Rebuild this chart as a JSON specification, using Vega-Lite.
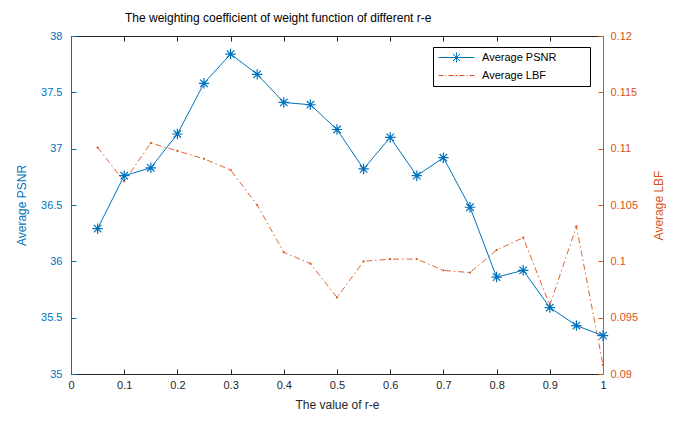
{
  "$schema": "https://vega.github.io/schema/vega-lite/v6.json",
  "width": 532,
  "height": 338,
  "autosize": {"type": "none"},
  "padding": {"left": 71, "top": 36, "right": 77, "bottom": 47},
  "background": "white",
  "title": {
    "text": "The weighting coefficient of weight function of different r-e",
    "anchor": "start",
    "frame": "group",
    "dx": 54,
    "offset": 5,
    "font": "Liberation Sans",
    "fontSize": 12,
    "fontWeight": "normal",
    "color": "#000000"
  },
  "config": {
    "view": {"stroke": null},
    "axis": {
      "grid": false,
      "labelFlush": false,
      "labelFont": "Liberation Sans",
      "titleFont": "Liberation Sans",
      "labelFontSize": 11,
      "titleFontSize": 12,
      "titleFontWeight": "normal",
      "tickSize": -5,
      "domainWidth": 1,
      "tickWidth": 1
    },
    "legend": {
      "labelFont": "Liberation Sans",
      "labelFontSize": 11
    }
  },
  "data": {
    "values": [
      {"x": 0.05, "psnr": 36.29, "lbf": 0.1101},
      {"x": 0.1, "psnr": 36.76, "lbf": 0.1071},
      {"x": 0.15, "psnr": 36.83, "lbf": 0.1105},
      {"x": 0.2, "psnr": 37.13, "lbf": 0.1098},
      {"x": 0.25, "psnr": 37.58, "lbf": 0.1091},
      {"x": 0.3, "psnr": 37.84, "lbf": 0.1081},
      {"x": 0.35, "psnr": 37.66, "lbf": 0.105},
      {"x": 0.4, "psnr": 37.41, "lbf": 0.1008},
      {"x": 0.45, "psnr": 37.39, "lbf": 0.0998},
      {"x": 0.5, "psnr": 37.17, "lbf": 0.0968},
      {"x": 0.55, "psnr": 36.82, "lbf": 0.1},
      {"x": 0.6, "psnr": 37.1, "lbf": 0.1002},
      {"x": 0.65, "psnr": 36.76, "lbf": 0.1002},
      {"x": 0.7, "psnr": 36.92, "lbf": 0.0992},
      {"x": 0.75, "psnr": 36.48, "lbf": 0.099},
      {"x": 0.8, "psnr": 35.86, "lbf": 0.101},
      {"x": 0.85, "psnr": 35.92, "lbf": 0.1021},
      {"x": 0.9, "psnr": 35.59, "lbf": 0.0961},
      {"x": 0.95, "psnr": 35.43, "lbf": 0.1031},
      {"x": 1.0, "psnr": 35.34, "lbf": 0.0908}
    ]
  },
  "layer": [
    {
      "encoding": {
        "x": {
          "field": "x",
          "type": "quantitative",
          "scale": {"domain": [0, 1], "nice": false, "zero": false},
          "axis": {
            "orient": "bottom",
            "title": "The value of r-e",
            "values": [0, 0.1, 0.2, 0.3, 0.4, 0.5, 0.6, 0.7, 0.8, 0.9, 1],
            "format": "~g",
            "labelPadding": 10,
            "titlePadding": 9,
            "domainColor": "#262626",
            "tickColor": "#262626",
            "labelColor": "#262626",
            "titleColor": "#262626"
          }
        },
        "y": {
          "field": "lbf",
          "type": "quantitative",
          "scale": {"domain": [0.09, 0.12], "nice": false, "zero": false},
          "axis": {
            "orient": "right",
            "title": "Average LBF",
            "titleAngle": 270,
            "titleBaseline": "bottom",
            "values": [0.09, 0.095, 0.1, 0.105, 0.11, 0.115, 0.12],
            "format": ".3~f",
            "labelPadding": 12,
            "titlePadding": 28,
            "domainColor": "#D95319",
            "tickColor": "#D95319",
            "labelColor": "#D95319",
            "titleColor": "#D95319"
          }
        },
        "color": {
          "datum": "Average LBF",
          "type": "nominal",
          "scale": {"domain": ["Average PSNR", "Average LBF"], "range": ["#0072BD", "#D95319"]},
          "legend": {
            "title": null,
            "orient": "none",
            "legendX": 362,
            "legendY": 11,
            "strokeColor": "#000000",
            "fillColor": "#ffffff",
            "padding": 5,
            "rowPadding": 4,
            "symbolSize": 100,
            "symbolOffset": 13,
            "labelOffset": 20,
            "labelColor": "#000000",
            "encode": {
              "symbols": {
                "update": {
                  "shape": {"signal": "datum.value === 'Average PSNR' ? 'M-3.6,0L3.6,0M0,-1L0,1M-1,0L1,0M-0.71,-0.71L0.71,0.71M-0.71,0.71L0.71,-0.71M25.2,0' : 'M-3.6,0L-2.6,0M-2.2,0L-2.0,0M-1.6,0L-0.6,0M-0.2,0L0.2,0M0.6,0L1.6,0M2.0,0L2.2,0M2.6,0L3.6,0M25.2,0'"},
                  "stroke": {"signal": "datum.value === 'Average PSNR' ? '#0072BD' : '#D95319'"},
                  "fill": {"value": "transparent"},
                  "strokeWidth": {"value": 1},
                  "opacity": {"value": 1}
                }
              }
            }
          }
        }
      },
      "layer": [
        {"mark": {"type": "line", "strokeWidth": 0.9, "strokeDash": [6, 3, 1.5, 3]}},
        {"mark": {"type": "point", "shape": "circle", "filled": true, "size": 5, "opacity": 1}}
      ]
    },
    {
      "encoding": {
        "x": {
          "field": "x",
          "type": "quantitative",
          "scale": {"domain": [0, 1], "nice": false, "zero": false},
          "axis": {
            "orient": "top",
            "title": null,
            "labels": false,
            "values": [0, 0.1, 0.2, 0.3, 0.4, 0.5, 0.6, 0.7, 0.8, 0.9, 1],
            "domainColor": "#262626",
            "tickColor": "#262626"
          }
        },
        "y": {
          "field": "psnr",
          "type": "quantitative",
          "scale": {"domain": [35, 38], "nice": false, "zero": false},
          "axis": {
            "orient": "left",
            "title": "Average PSNR",
            "values": [35, 35.5, 36, 36.5, 37, 37.5, 38],
            "format": "~g",
            "labelPadding": 14,
            "titlePadding": 12,
            "domainColor": "#0072BD",
            "tickColor": "#0072BD",
            "labelColor": "#0072BD",
            "titleColor": "#0072BD"
          }
        },
        "color": {"datum": "Average PSNR", "type": "nominal"}
      },
      "layer": [
        {"mark": {"type": "line", "strokeWidth": 1}},
        {"mark": {"type": "point", "shape": "M0,-1L0,1M-1,0L1,0M-0.71,-0.71L0.71,0.71M-0.71,0.71L0.71,-0.71", "filled": false, "size": 110, "strokeWidth": 1.2, "opacity": 1}}
      ]
    }
  ],
  "resolve": {"scale": {"y": "independent"}, "axis": {"x": "independent"}}
}
